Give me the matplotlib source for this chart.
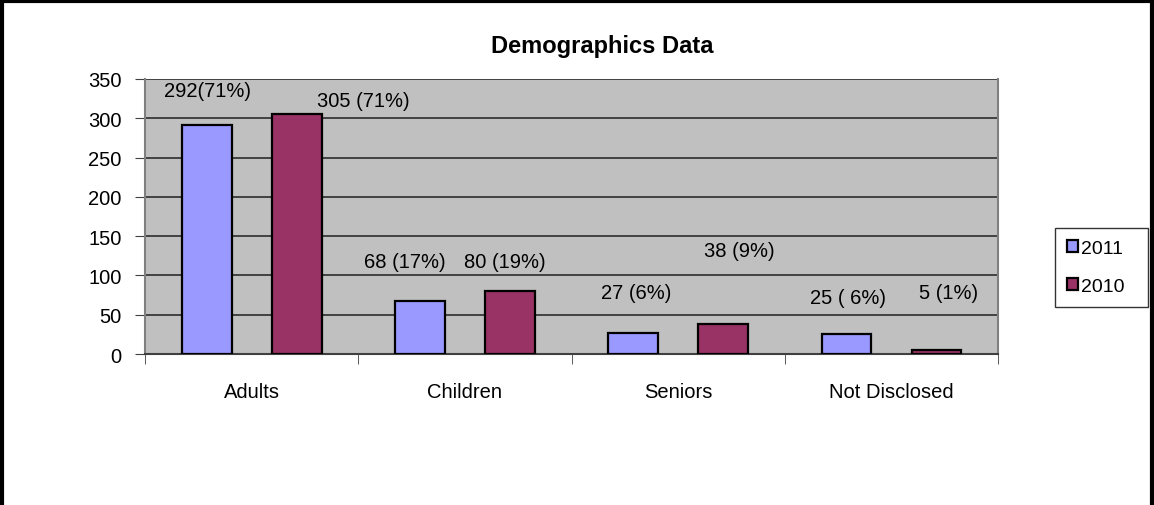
import numpy as np
import matplotlib.pyplot as plt
from matplotlib.lines import Line2D

plt.rcParams['font.family'] = ['Liberation Sans', 'DejaVu Sans']

categories = ['Adults', 'Children', 'Seniors', 'Not Disclosed']
series_names = ['2011', '2010']
values_2011 = [292, 68, 27, 25]
values_2010 = [305, 80, 38, 5]
labels_2011 = ['292(71%)', '68 (17%)', '27 (6%)', '25 ( 6%)']
labels_2010 = ['305 (71%)', '80 (19%)', '38 (9%)', '5 (1%)']
yticks = [0, 50, 100, 150, 200, 250, 300, 350]

# hand-placed label spots (x offset from category centre, y in data units)
lab_pos_2011 = [(-0.205, 335), (-0.281, 118), (-0.198, 78), (-0.203, 72)]
lab_pos_2010 = [(0.522, 323), (0.188, 118), (0.285, 132), (0.266, 78)]

colors = ['#9999FF', '#993366']
fs = 14.5

fig = plt.figure(figsize=(11.54, 5.06), dpi=100)
ax = fig.add_axes([0.1257, 0.2984, 0.7392, 0.5435])
ax.set_facecolor('#C0C0C0')

x = np.arange(len(categories))
w = 0.234
off = 0.211
b1 = ax.bar(x - off, values_2011, w, color=colors[0], edgecolor='black', linewidth=1.6, zorder=3, label=series_names[0])
b2 = ax.bar(x + off, values_2010, w, color=colors[1], edgecolor='black', linewidth=1.6, zorder=3, label=series_names[1])

for i in range(len(categories)):
	ax.text(x[i] + lab_pos_2011[i][0], lab_pos_2011[i][1], labels_2011[i], ha='center', va='center', fontsize=fs)
	ax.text(x[i] + lab_pos_2010[i][0], lab_pos_2010[i][1], labels_2010[i], ha='center', va='center', fontsize=fs)

ax.set_xlim(-0.5, len(categories) - 0.5)
ax.set_ylim(0, 350)
ax.set_yticks(yticks)
ax.set_yticklabels([str(t) for t in yticks], fontsize=fs)
ax.yaxis.grid(True, color='#202020', linewidth=1.1, zorder=1)
ax.set_axisbelow(True)

ax.set_xticks(x)
ax.set_xticklabels(categories, fontsize=fs)
ax.set_xticks(np.arange(len(categories) + 1) - 0.5, minor=True)
ax.tick_params(axis='x', which='major', length=0, pad=20)
ax.tick_params(axis='x', which='minor', length=7, direction='out', color='#404040')
ax.tick_params(axis='y', length=7, direction='out', color='#404040', pad=10)

for s in ['left', 'bottom', 'right']:
	ax.spines[s].set_color('#808080')
	ax.spines[s].set_linewidth(1.5)
ax.spines['bottom'].set_color('#404040')
ax.spines['top'].set_visible(False)

fig.text(602 / 1154, 1 - 47 / 506, 'Demographics Data', fontsize=17, fontweight='bold', ha='center', va='center')

leg = fig.legend(handles=[b1, b2], labels=series_names, loc='upper left',
	bbox_to_anchor=(1055 / 1154, 1 - 309 / 506, 93 / 1154, 80 / 506), mode='expand',
	fontsize=14, frameon=True, fancybox=False, edgecolor='black',
	handlelength=0.6, handleheight=0.6, handletextpad=0.15, labelspacing=1.1,
	borderpad=0.6, borderaxespad=0)
leg.get_frame().set_linewidth(1.0)

# outer border (left, top, right)
fig.add_artist(Line2D([0.0015, 0.0015], [0, 1], color='black', linewidth=3, transform=fig.transFigure))
fig.add_artist(Line2D([0, 1], [0.997, 0.997], color='black', linewidth=3, transform=fig.transFigure))
fig.add_artist(Line2D([0.9985, 0.9985], [0, 1], color='black', linewidth=3, transform=fig.transFigure))

fig.savefig('out.png', dpi=100)
